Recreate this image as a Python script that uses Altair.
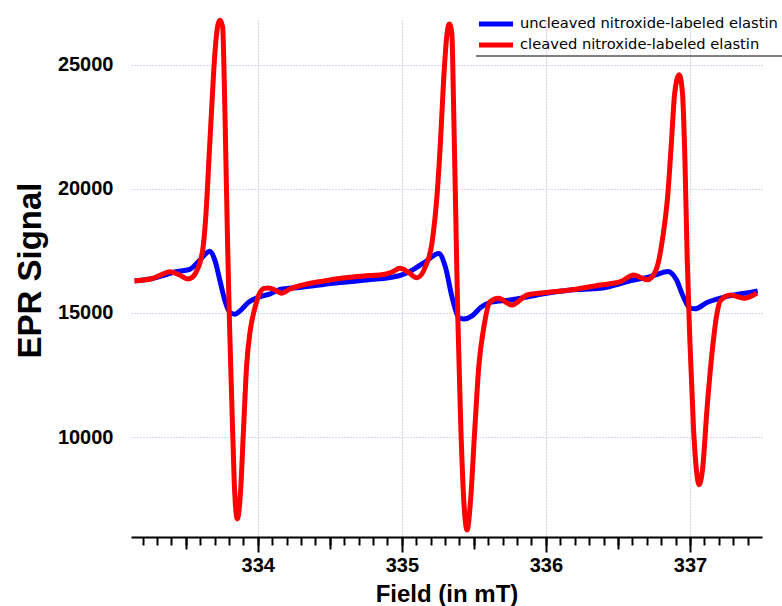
import altair as alt
import pandas as pd

series_names = ["uncleaved nitroxide-labeled elastin", "cleaved nitroxide-labeled elastin"]
series_colors = ["#0000ff", "#ff0000"]

blue_field = [333.145, 333.249, 333.341, 333.423, 333.528, 333.598, 333.667, 333.702, 333.737, 333.772,
              333.807, 333.842, 333.877, 333.935, 334.016, 334.086, 334.153, 334.292, 334.524, 334.756,
              334.987, 335.058, 335.163, 335.256, 335.302, 335.349, 335.395, 335.430, 335.488, 335.547,
              335.616, 335.752, 335.938, 336.170, 336.378, 336.610, 336.725, 336.765, 336.847, 336.906,
              336.953, 337.000, 337.035, 337.118, 337.212, 337.300, 337.444, 337.470]
blue_signal = [16290, 16370, 16511, 16652, 16760, 17132, 17490, 17132, 16314, 15495,
               15018, 14950, 15086, 15427, 15659, 15768, 15947, 16028, 16197, 16330,
               16511, 16680, 17064, 17400, 16859, 15632, 14814, 14760, 14882, 15223,
               15427, 15524, 15725, 15927, 15995, 16330, 16463, 16539, 16670, 16338,
               15666, 15196, 15170, 15420, 15600, 15720, 15858, 15887]

red_field = [333.145, 333.249, 333.318, 333.388, 333.458, 333.513, 333.548, 333.576, 333.600,
             333.621, 333.644, 333.660, 333.679, 333.702, 333.721, 333.737, 333.756, 333.767, 333.779,
             333.791, 333.802, 333.819, 333.837, 333.858, 333.881, 333.900, 333.923, 333.947, 333.981, 334.016,
             334.045, 334.075, 334.125, 334.165, 334.223, 334.269, 334.385, 334.501, 334.640, 334.779,
             334.871, 334.932, 334.987, 335.043, 335.104,
             335.163, 335.209, 335.244, 335.267, 335.291, 335.314, 335.330, 335.347, 335.360, 335.374,
             335.388, 335.407, 335.430, 335.453, 335.477, 335.505, 335.535, 335.567,
             335.613, 335.671, 335.764, 335.869, 335.984, 336.170, 336.378, 336.517, 336.610, 336.660, 336.705,
             336.765, 336.812, 336.847, 336.871, 336.894, 336.925, 336.948, 336.965, 336.981, 337.000,
             337.024, 337.047, 337.063, 337.087, 337.118, 337.153, 337.188, 337.212, 337.282, 337.375, 337.465]
red_signal = [16300, 16358, 16511, 16664, 16531, 16370, 16451, 16700, 17050,
              17677, 19314, 21086, 23132, 25450, 26541, 26800, 26541, 24495, 21086,
              17677, 14950, 11541, 8132, 6700, 7859, 10177, 12905, 14268, 15223, 15836,
              15990, 16010, 15907, 15800, 15967, 16060, 16221, 16330, 16439, 16511,
              16552, 16652, 16801, 16652, 16420,
              16859, 17814, 19723, 21768, 24495, 26268, 26650, 26268, 23132, 19041,
              14950, 10859, 7450, 6250, 7450, 10177, 12905, 14350,
              15455, 15592, 15322, 15725, 15818, 15927, 16128, 16261, 16531, 16420, 16335,
              16741, 18084, 19829, 21844, 23858, 24600, 23858, 21173, 17143, 13786,
              10428, 8548, 8078, 8682, 11100, 13383, 14995, 15500, 15725, 15592, 15800]

x_major_ticks = [334, 335, 336, 337]
x_half_ticks = [333.5, 334.5, 335.5, 336.5]
x_minor_ticks = [round(333.2 + 0.1 * i, 1) for i in range(43)]
y_ticks = [10000, 15000, 20000, 25000]
x_title = "Field (in mT)"
y_title = "EPR Signal"

df = pd.concat([
    pd.DataFrame({"field": blue_field, "signal": blue_signal, "series": series_names[0]}),
    pd.DataFrame({"field": red_field, "signal": red_signal, "series": series_names[1]}),
], ignore_index=True)

W, H = 631, 517
FONT = "Liberation Sans"
GRID = "#a8a8f0"

xscale = alt.Scale(domain=[333.12, 337.5], nice=False, zero=False)
yscale = alt.Scale(domain=[5970, 26810], nice=False, zero=False)

x_axis_major = alt.Axis(
    orient="bottom", values=x_major_ticks, format="d",
    domain=True, domainColor="black", domainWidth=2,
    ticks=True, tickSize=15, tickWidth=2, tickColor="black",
    labelFont=FONT, labelFontWeight="bold", labelFontSize=20, labelColor="black", labelPadding=3,
    grid=True, gridColor=GRID, gridDash=[1, 2], gridWidth=1,
    title=x_title, titleFont=FONT, titleFontWeight="bold", titleFontSize=24, titleColor="black",
    titleBaseline="alphabetic", titleY=64,
)
y_axis = alt.Axis(
    orient="left", values=y_ticks, format="d", domain=False, ticks=False,
    labelFont=FONT, labelFontWeight="bold", labelFontSize=20, labelColor="black", labelPadding=18,
    grid=True, gridColor=GRID, gridDash=[1, 2], gridWidth=1,
    title=y_title, titleFont=FONT, titleFontWeight="bold", titleFontSize=33, titleColor="black",
    titleBaseline="alphabetic", titleX=-91, titleY=250, titleAngle=270,
)

legend = alt.Legend(
    title=None, orient="none", legendX=355, legendY=-6, padding=0,
    symbolType="M-2.27,0L2.27,0", symbolSize=225, symbolStrokeWidth=5,
    labelFont="DejaVu Sans", labelFontSize=14.7, labelColor="black", labelOffset=14, labelLimit=400,
    rowPadding=1,
)
color = alt.Color("series:N", scale=alt.Scale(domain=series_names, range=series_colors), legend=legend)

blue = alt.Chart(df).transform_filter(alt.datum.series == series_names[0]).mark_line(
    strokeWidth=5, interpolate="monotone"
).encode(
    x=alt.X("field:Q", scale=xscale, axis=x_axis_major),
    y=alt.Y("signal:Q", scale=yscale, axis=y_axis),
    color=color,
)
red = alt.Chart(df).transform_filter(alt.datum.series == series_names[1]).mark_line(
    strokeWidth=5, interpolate="monotone"
).encode(
    x=alt.X("field:Q", scale=xscale, axis=None),
    y=alt.Y("signal:Q", scale=yscale, axis=None),
    color=color,
)

def tick_layer(values, size):
    return alt.Chart(df).mark_point(opacity=0).encode(
        x=alt.X("field:Q", scale=xscale, axis=alt.Axis(
            orient="bottom", values=values, labels=False, domain=False, grid=False, title=None,
            ticks=True, tickSize=size, tickWidth=2, tickColor="black")),
        y=alt.Y("signal:Q", scale=yscale, axis=None),
    )

minor = tick_layer(x_minor_ticks, 8)
half = tick_layer(x_half_ticks, 12)

underline = alt.Chart(pd.DataFrame({"k": [0]})).mark_rule(color="#808080", strokeWidth=2).encode(
    x=alt.value(345), x2=alt.value(651), y=alt.value(36)
)

chart = alt.layer(blue, red, minor, half, underline).resolve_axis(
    x="independent", y="independent"
).properties(
    width=W, height=H,
    autosize=alt.AutoSizeParams(type="none"),
    padding={"left": 131, "top": 20, "right": 20, "bottom": 69},
    background="white",
).configure_view(stroke=None)

chart.save("out.html", embed_options={"renderer": "svg", "actions": False})
